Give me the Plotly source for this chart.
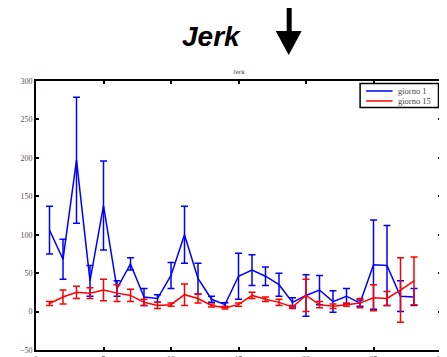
import plotly.graph_objects as go

# data
days = list(range(1, 29))
g1_mean = [106, 68, 197, 40, 138, 30, 62, 19, 17, 47, 100, 43, 16, 9, 46, 54, 46, 35, 12, 21, 28, 13, 20, 11, 61, 60, 20, 19]
g1_err = [31, 26, 82, 20, 58, 10, 8, 11, 5, 17, 37, 20, 4, 2.5, 30, 20, 12, 15, 6, 27, 19, 14, 10, 4, 58, 52, 20, 11]
g15_mean = [10.5, 19, 25, 24, 28, 24, 21, 12, 8, 9, 22, 17, 8, 5, 9, 21, 16, 12, 6, 21, 9, 7, 9, 11, 18, 17, 28, 40]
g15_err = [2.5, 9, 8, 7, 14, 11, 8, 4, 4, 2, 14, 6, 2, 1.5, 2, 4, 3, 4, 2, 21, 4, 3, 2, 6, 17, 9, 42, 31]
series_names = ["giorno 1", "giorno 15"]
series_colors = ["#0000ff", "#ff0000"]
x_ticks = [0, 5, 10, 15, 20, 25, 30]
y_ticks = [-50, 0, 50, 100, 150, 200, 250, 300]

# page body has an 8px margin: work in page pixels and shift
OFF = 8
PW, PH = 447, 357
W, H = PW - OFF, PH - OFF
L, R, T, B = 36, 441.5, 81, 350.5  # page pixel coords of the plot area


def px(xp):
    return (xp - L) / (R - L)


def py(yp):
    return (B - yp) / (B - T)


fig = go.Figure()
for name, col, m, e in [(series_names[0], series_colors[0], g1_mean, g1_err),
                        (series_names[1], series_colors[1], g15_mean, g15_err)]:
    fig.add_trace(go.Scatter(
        x=days, y=m, name=name, mode="lines", showlegend=False,
        line=dict(color=col, width=1.5),
        error_y=dict(type="data", array=e, visible=True, color=col, thickness=1.5, width=3.5),
    ))

axis_common = dict(
    showline=True, linecolor="black", linewidth=2, mirror="allticks",
    ticks="inside", ticklen=3, tickwidth=2, tickcolor="black",
    showgrid=False, zeroline=False, automargin=False,
    tickfont=dict(family="Liberation Serif", size=8, color="#555555"),
)
fig.update_xaxes(range=[0, 30], tickvals=x_ticks, **axis_common)
fig.update_yaxes(range=[-50, 300], tickvals=y_ticks, **axis_common)

# big header and arrow
fig.add_annotation(
    x=px(212), y=py(36), xref="paper", yref="paper", text="<b><i>Jerk</i></b>",
    showarrow=False, font=dict(family="Liberation Sans", size=28, color="black"),
    xanchor="center", yanchor="middle",
)
fig.add_annotation(
    x=0.5, y=py(72), xref="paper", yref="paper", text="Jerk",
    showarrow=False, font=dict(family="Liberation Serif", size=7, color="#444444"),
    xanchor="center", yanchor="middle",
)
fig.add_shape(type="rect", xref="paper", yref="paper",
              x0=px(287), x1=px(292), y0=py(33), y1=py(7),
              fillcolor="black", line=dict(width=0))
fig.add_shape(type="path", xref="paper", yref="paper",
              path=f"M {px(276)} {py(31)} L {px(302)} {py(31)} L {px(289)} {py(55)} Z",
              fillcolor="black", line=dict(width=0))

# compact legend box (matlab style)
fig.add_shape(type="rect", xref="paper", yref="paper",
              x0=px(360.5), x1=px(439), y0=py(107.5), y1=py(83.5),
              fillcolor="white", line=dict(color="black", width=1.5))
for i, (name, col) in enumerate(zip(series_names, series_colors)):
    yy = 91 + 10 * i
    fig.add_shape(type="line", xref="paper", yref="paper",
                  x0=px(366.5), x1=px(393), y0=py(yy), y1=py(yy),
                  line=dict(color=col, width=1.5))
    fig.add_annotation(
        x=px(396), y=py(yy), xref="paper", yref="paper", text=name,
        showarrow=False, font=dict(family="Liberation Serif", size=8.5, color="#444444"),
        xanchor="left", yanchor="middle",
    )

fig.update_layout(
    width=W, height=H,
    margin=dict(l=L - OFF, r=PW - R, t=T - OFF, b=PH - B, autoexpand=False),
    paper_bgcolor="white", plot_bgcolor="white",
    showlegend=False,
)

fig.write_html("out.html")
